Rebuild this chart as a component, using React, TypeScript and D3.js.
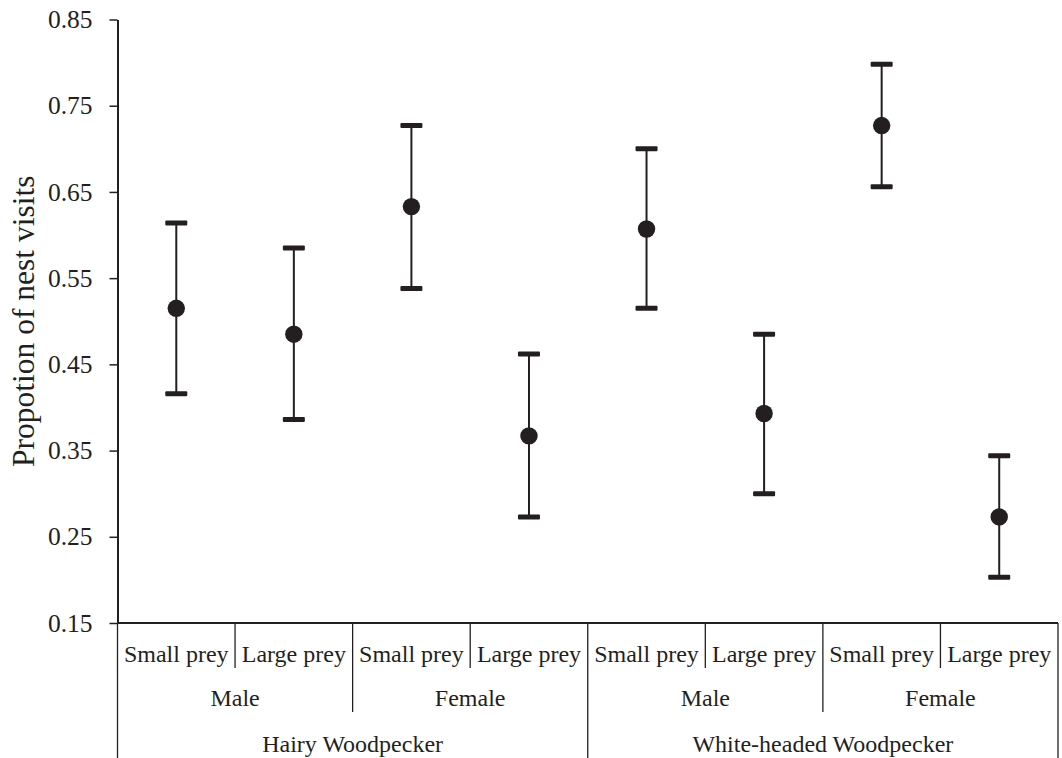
import React, { useEffect, useRef } from "react";
import * as d3 from "d3";

const categories = ["Small prey", "Large prey", "Small prey", "Large prey", "Small prey", "Large prey", "Small prey", "Large prey"];
const sexes = ["Male", "Female", "Male", "Female"];
const species = ["Hairy Woodpecker", "White-headed Woodpecker"];
const means = [0.515, 0.485, 0.633, 0.367, 0.607, 0.393, 0.727, 0.273];
const lowers = [0.416, 0.386, 0.538, 0.273, 0.515, 0.300, 0.656, 0.203];
const uppers = [0.614, 0.585, 0.727, 0.462, 0.700, 0.485, 0.798, 0.344];
const yTicks = [0.15, 0.25, 0.35, 0.45, 0.55, 0.65, 0.75, 0.85];
const yLabel = "Propotion of nest visits";

const W = 1062;
const H = 758;
const left = 117.5;
const right = 1058;
const top = 19.5;
const bottom = 623;
const ink = "#231f20";
const font = "'Liberation Serif', 'Times New Roman', serif";

export default function App() {
  const ref = useRef<SVGSVGElement>(null);
  useEffect(() => {
    const svg = d3.select(ref.current);
    svg.selectAll("*").remove();
    const x = d3.scaleBand<number>().domain(d3.range(categories.length)).range([left, right]).padding(0);
    const y = d3.scaleLinear().domain([0.15, 0.85]).range([bottom, top]);
    const bw = x.bandwidth();

    // y axis
    const ya = svg.append("g").attr("transform", `translate(${left},0)`)
      .call(d3.axisLeft(y).tickValues(yTicks).tickSize(8).tickSizeOuter(0).tickFormat(d3.format(".2f")));
    ya.attr("font-family", font);
    ya.select(".domain").attr("stroke", ink).attr("stroke-width", 2);
    ya.selectAll(".tick line").attr("stroke", ink).attr("stroke-width", 1.5);
    ya.selectAll(".tick text").attr("font-family", font).attr("font-size", 25.5).attr("fill", ink).attr("x", -25);

    // x axis line
    svg.append("line").attr("x1", left).attr("x2", right).attr("y1", bottom).attr("y2", bottom)
      .attr("stroke", ink).attr("stroke-width", 2);

    const g = svg.append("g");
    // category dividers
    const divs: { x: number; y2: number }[] = [];
    for (let i = 0; i <= categories.length; i++) {
      const xx = i < categories.length ? (x(i) as number) : right;
      let y2 = 668;
      if (i % 2 === 0) y2 = 712;
      if (i % 4 === 0) y2 = H;
      divs.push({ x: xx, y2 });
    }
    g.selectAll("line.div").data(divs).enter().append("line")
      .attr("x1", (d) => d.x).attr("x2", (d) => d.x).attr("y1", bottom).attr("y2", (d) => d.y2)
      .attr("stroke", ink).attr("stroke-width", 1.3);

    g.selectAll("text.cat").data(categories).enter().append("text")
      .attr("x", (_, i) => (x(i) as number) + bw / 2).attr("y", 662)
      .attr("text-anchor", "middle").attr("font-family", font).attr("font-size", 24).attr("fill", ink)
      .text((d) => d);
    g.selectAll("text.sex").data(sexes).enter().append("text")
      .attr("x", (_, i) => (x(i * 2) as number) + bw).attr("y", 706)
      .attr("text-anchor", "middle").attr("font-family", font).attr("font-size", 24).attr("fill", ink)
      .text((d) => d);
    g.selectAll("text.sp").data(species).enter().append("text")
      .attr("x", (_, i) => (x(i * 4) as number) + bw * 2).attr("y", 752)
      .attr("text-anchor", "middle").attr("font-family", font).attr("font-size", 24).attr("fill", ink)
      .text((d) => d);

    // y label
    svg.append("text").attr("transform", `translate(34,${(top + bottom) / 2}) rotate(-90)`)
      .attr("text-anchor", "middle").attr("font-family", font).attr("font-size", 31.5).attr("fill", ink)
      .text(yLabel);

    // error bars
    const pts = means.map((m, i) => ({ m, lo: lowers[i], hi: uppers[i], cx: (x(i) as number) + bw / 2 }));
    const eb = svg.append("g");
    eb.selectAll("line.whisk").data(pts).enter().append("line")
      .attr("x1", (d) => d.cx).attr("x2", (d) => d.cx).attr("y1", (d) => y(d.lo)).attr("y2", (d) => y(d.hi))
      .attr("stroke", ink).attr("stroke-width", 2);
    const capW = 22;
    eb.selectAll("rect.capHi").data(pts).enter().append("rect")
      .attr("x", (d) => d.cx - capW / 2).attr("y", (d) => y(d.hi) - 2.5).attr("width", capW).attr("height", 5)
      .attr("rx", 1).attr("fill", ink);
    eb.selectAll("rect.capLo").data(pts).enter().append("rect")
      .attr("x", (d) => d.cx - capW / 2).attr("y", (d) => y(d.lo) - 2.5).attr("width", capW).attr("height", 5)
      .attr("rx", 1).attr("fill", ink);
    eb.selectAll("circle").data(pts).enter().append("circle")
      .attr("cx", (d) => d.cx).attr("cy", (d) => y(d.m)).attr("r", 8.7).attr("fill", ink);
  }, []);
  return (
    <svg ref={ref} width={W} height={H} style={{ position: "absolute", left: 0, top: 0, background: "#fff" }} />
  );
}
